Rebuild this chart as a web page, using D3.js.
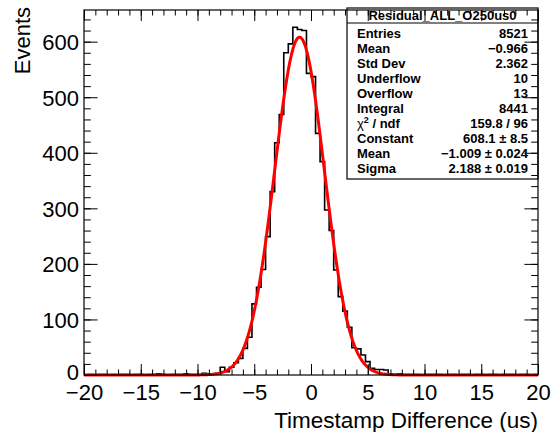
<!DOCTYPE html>
<html>
<head>
<meta charset="utf-8">
<script src="https://cdn.jsdelivr.net/npm/d3@7"></script>
<style>
body { margin: 0; background: #fff; }
text { font-family: "Liberation Sans", Arial, Helvetica, sans-serif; }
</style>
</head>
<body>
<div id="chart-area"></div>
<script>
// histogram: 100 bins from -20 to 20
var binLow = -20, binHigh = 20;
var counts = [
    0, 1, 0, 1, 1, 0, 1, 0, 1, 1,
    0, 1, 1, 0, 1, 1, 2, 1, 0, 1,
    1, 1, 2, 1, 1, 1, 3, 2, 2, 3,
    14, 6, 14, 22, 30, 48, 68, 128, 158, 190,
    249, 330, 418, 469, 580, 596, 626, 622, 620, 543,
    537, 435, 384, 297, 260, 189, 141, 115, 86, 49,
    47, 36, 24, 12, 10, 10, 9, 2, 1, 2,
    1, 1, 1, 1, 0, 1, 1, 1, 1, 0,
    1, 1, 0, 1, 1, 0, 1, 1, 0, 1,
    1, 0, 1, 1, 1, 0, 1, 1, 0, 1
];

// gaus fit parameters (from the stats box)
var fitConstant = 608.1, fitMean = -1.009, fitSigma = 2.188;

var xTicks = [-20, -15, -10, -5, 0, 5, 10, 15, 20];
var yTicks = [0, 100, 200, 300, 400, 500, 600];
var yMax = 657;

var histTitle = "Residual_ALL_O250us0";
var statNames = ["Entries", "Mean", "Std Dev", "Underflow", "Overflow", "Integral", "chi2", "Constant", "Mean", "Sigma"];
var statValues = ["8521", "\u22120.966", "2.362", "10", "13", "8441", "159.8 / 96", "608.1 \u00b1 8.5", "\u22121.009 \u00b1 0.024", "2.188 \u00b1 0.019"];

var margin = {left: 84, right: 13, top: 10, bottom: 57};
var width = 454;
var height = 365;

var svg = d3.select('#chart-area')
    .append('svg')
        .attr('width', 551)
        .attr('height', 432);

svg.append('rect').attr('width', 551).attr('height', 432).attr('fill', 'white');

var g = svg.append('g')
    .attr('transform', 'translate(' + margin.left + ', ' + margin.top + ')');

var x = d3.scaleLinear().domain([binLow, binHigh]).range([0, width]);
var y = d3.scaleLinear().domain([0, yMax]).range([height, 0]);

var binW = (binHigh - binLow) / counts.length;

// histogram outline
var pts = [[binLow, 0]];
counts.forEach((c, i) => {
    pts.push([binLow + i * binW, c]);
    pts.push([binLow + (i + 1) * binW, c]);
});
pts.push([binHigh, 0]);

var line = d3.line()
    .x((d) => { return x(d[0]); })
    .y((d) => { return y(d[1]); });

g.append('path')
    .attr('d', line(pts))
    .attr('fill', 'none')
    .attr('stroke', 'black')
    .attr('stroke-width', 1.6);

// fit curve
var fitPts = d3.range(0, 401).map((k) => {
    var xv = binLow + k * (binHigh - binLow) / 400;
    return [xv, fitConstant * Math.exp(-0.5 * Math.pow((xv - fitMean) / fitSigma, 2))];
});

g.append('path')
    .attr('d', line(fitPts))
    .attr('fill', 'none')
    .attr('stroke', '#ff0000')
    .attr('stroke-width', 3)
    .attr('stroke-linejoin', 'round');

// stats box (drawn under the axes, ticks show through as in ROOT output)
var box = {x0: 347 - margin.left, x1: width, y0: -2, sep: 13, y1: 169};
g.append('rect')
    .attr('x', box.x0).attr('y', box.y0)
    .attr('width', box.x1 - box.x0).attr('height', box.y1 - box.y0)
    .attr('fill', 'white').attr('stroke', 'black').attr('stroke-width', 1.2);
g.append('line')
    .attr('x1', box.x0).attr('x2', box.x1)
    .attr('y1', box.sep).attr('y2', box.sep)
    .attr('stroke', 'black').attr('stroke-width', 1.2);

// axes
function noLabel() { return ''; }

g.append('g')
    .attr('transform', 'translate(0, ' + height + ')')
    .call(d3.axisBottom(x).tickValues(d3.range(-20, 21, 1)).tickSize(-5.5).tickSizeOuter(0).tickFormat(noLabel));
var xAxis = g.append('g')
    .attr('transform', 'translate(0, ' + height + ')')
    .call(d3.axisBottom(x).tickValues(xTicks).tickSize(-11).tickSizeOuter(0));
xAxis.selectAll('text')
    .attr('y', 25)
    .attr('dy', 0)
    .attr('font-size', '22px');

g.append('g')
    .call(d3.axisTop(x).tickValues(d3.range(-20, 21, 1)).tickSize(-5.5).tickSizeOuter(0).tickFormat(noLabel));
g.append('g')
    .call(d3.axisTop(x).tickValues(xTicks).tickSize(-11).tickSizeOuter(0).tickFormat(noLabel));

g.append('g')
    .call(d3.axisLeft(y).tickValues(d3.range(0, 641, 20)).tickSize(-6.8).tickSizeOuter(0).tickFormat(noLabel));
var yAxis = g.append('g')
    .call(d3.axisLeft(y).tickValues(yTicks).tickSize(-13.6).tickSizeOuter(0));
yAxis.selectAll('text')
    .attr('x', -5)
    .attr('dy', (d) => { return d === 0 ? '0.2em' : '0.36em'; })
    .attr('font-size', '22px');

g.append('g')
    .attr('transform', 'translate(' + width + ', 0)')
    .call(d3.axisRight(y).tickValues(d3.range(0, 641, 20)).tickSize(-6.8).tickSizeOuter(0).tickFormat(noLabel));
g.append('g')
    .attr('transform', 'translate(' + width + ', 0)')
    .call(d3.axisRight(y).tickValues(yTicks).tickSize(-13.6).tickSizeOuter(0).tickFormat(noLabel));

g.selectAll('.domain').remove();
g.selectAll('.tick line').attr('stroke', 'black').attr('stroke-width', 1);
g.selectAll('.tick text').attr('fill', 'black');

g.append('rect')
    .attr('width', width).attr('height', height)
    .attr('fill', 'none').attr('stroke', 'black').attr('stroke-width', 1.2);

// axis titles
g.append('text')
    .attr('x', width)
    .attr('y', 418)
    .attr('font-size', '22.5px')
    .attr('text-anchor', 'end')
    .text('Timestamp Difference (us)');

g.append('text')
    .attr('transform', 'translate(' + (30 - margin.left) + ', -3) rotate(-90)')
    .attr('font-size', '22px')
    .attr('text-anchor', 'end')
    .text('Events');

// stats text
g.append('text')
    .attr('x', (box.x0 + box.x1) / 2)
    .attr('y', 10)
    .attr('font-size', '13px')
    .attr('font-weight', 'bold')
    .attr('text-anchor', 'middle')
    .text(histTitle);

statNames.forEach((name, i) => {
    var ty = 27.5 + i * 15.1;
    var t = g.append('text')
        .attr('x', 357 - margin.left)
        .attr('y', ty)
        .attr('font-size', '13px')
        .attr('font-weight', 'bold');
    if (name === 'chi2') {
        t.append('tspan').attr('font-weight', 'normal').text('\u03c7');
        t.append('tspan').attr('font-size', '9px').attr('dy', -5).text('2');
        t.append('tspan').attr('dy', 5).text(' / ndf');
    } else {
        t.text(name);
    }
    g.append('text')
        .attr('x', 528 - margin.left)
        .attr('y', ty)
        .attr('font-size', '13px')
        .attr('font-weight', 'bold')
        .attr('text-anchor', 'end')
        .text(statValues[i]);
});
</script>
</body>
</html>
